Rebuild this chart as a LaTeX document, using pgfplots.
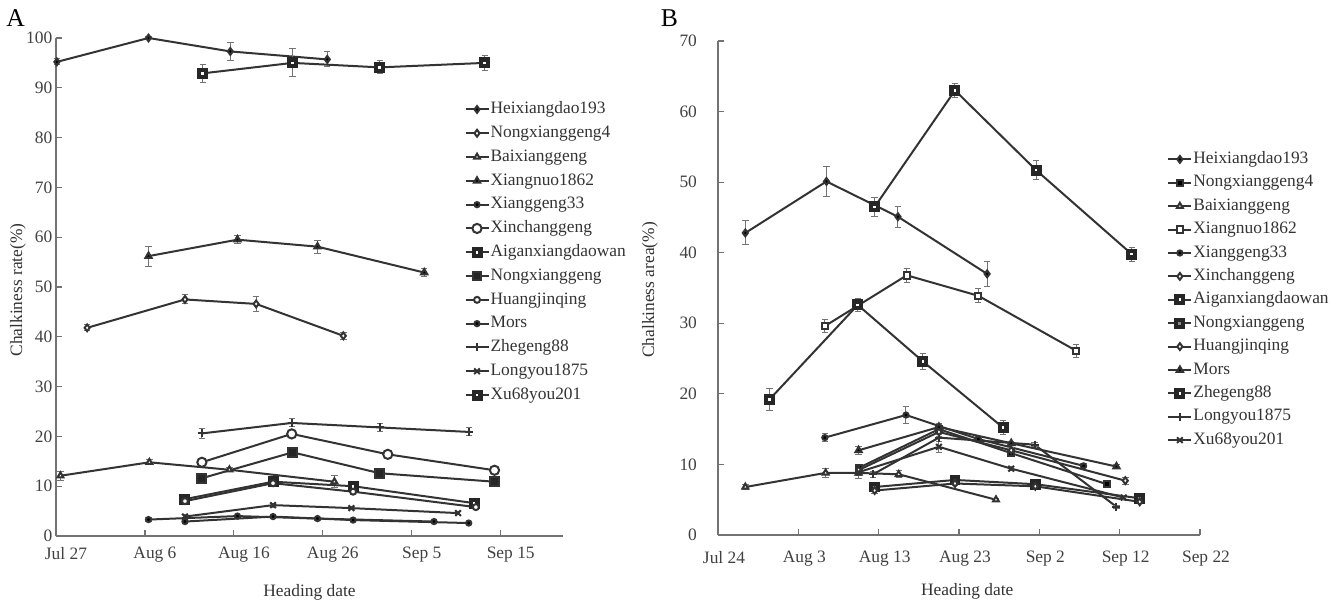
\documentclass[border=0pt]{standalone}
\usepackage{fontspec}
\setmainfont{Liberation Serif}
\usepackage{pgfplots}
\pgfplotsset{compat=1.18}
\newcommand{\fs}{\fontsize{8.7}{10}\selectfont}

\pgfplotsset{
  chalk/.style={
    scale only axis, clip=false,
    axis lines*=left,
    axis line style={black!55, line width=0.8pt},
    tick style={black!55, line width=0.6pt},
    major tick length=3pt,
    tick align=inside,
    ymin=0,
    tick label style={font=\fs, text=black!75},
    /pgf/number format/assume math mode=true,
    label style={font=\fs, text=black!80},
    every axis plot/.append style={line width=1pt, black!80},
    legend style={draw=none, fill=none, font=\fs, text=black!80, inner sep=0pt,
      anchor=north west, cells={anchor=west},
      nodes={inner sep=0.5pt, text height=6pt, text depth=1.8pt}},
    legend image code/.code={\draw[mark repeat=2,mark phase=2,##1] plot coordinates {(0pt,0pt) (5.75pt,0pt) (11.5pt,0pt)};},
  },
  eb/.style={error bars/y dir=both, error bars/y explicit,
    error bars/error bar style={black!55, line width=0.5pt},
    error bars/error mark options={rotate=90, mark size=1.6pt, black!55, line width=0.5pt}},
  dmdF/.style={eb, mark=diamond*, mark size=1.7pt, mark options={fill=black, solid}},
  dmdO/.style={eb, mark=diamond*, mark size=1.7pt, mark options={fill=white, solid}},
  triO/.style={eb, mark=triangle*, mark size=1.7pt, mark options={fill=white, solid}},
  triF/.style={eb, mark=triangle*, mark size=1.8pt, mark options={fill=black, solid}},
  dotF/.style={eb, mark=*, mark size=1.3pt, mark options={fill=black, solid}},
  cirO/.style={eb, mark=*, mark size=2.3pt, mark options={fill=white, solid}},
  cirOs/.style={eb, mark=*, mark size=1.5pt, mark options={fill=white, solid}},
  sqIn/.style={eb, mark=square*, mark size=1.7pt, mark options={fill=white, draw=black!85, line width=2.1pt, solid}},
  sqF/.style={eb, mark=square*, mark size=2.2pt, mark options={fill=black!85, solid}},
  sqX/.style={eb, mark=square*, mark size=1.7pt, mark options={fill=black!45, draw=black!85, line width=2pt, solid}},
  sqO/.style={eb, mark=square*, mark size=1.6pt, mark options={fill=white, solid}},
  sqFs/.style={eb, mark=square*, mark size=1.5pt, mark options={fill=black, solid}},
  plusM/.style={eb, mark=+, mark size=2pt, mark options={solid}},
  xM/.style={eb, mark=x, mark size=2pt, mark options={solid}},
}

\begin{document}
\begin{tikzpicture}
\path[use as bounding box] (0,0) rectangle (668pt,-301.5pt);
\node[font=\fontsize{12.8}{14}\selectfont] at (7.75pt,-9.25pt) {A};
\node[font=\fontsize{12.8}{14}\selectfont] at (334.75pt,-9.25pt) {B};

% ---------------- panel A: chalkiness rate ----------------
\begin{axis}[chalk, at={(28pt,-268pt)}, anchor=south west,
  width=253.5pt, height=249pt,
  xmin=0, xmax=57, ymax=100,
  xtick={0,10,...,50},
  xticklabels={Jul 27,Aug 6,Aug 16,Aug 26,Sep 5,Sep 15},
  xticklabel style={xshift=5pt, yshift=-2pt},
  ytick={0,10,...,100},
  yticklabel style={xshift=1.7pt},
  xlabel={Heading date},
  xlabel style={at={(axis description cs:0.5,-0.1124)}, anchor=center},
  ylabel={Chalkiness rate(\%)},
  ylabel style={at={(axis description cs:-0.075,0.494)}, anchor=center},
  legend style={at={(axis description cs:0.805,0.875)}, row sep=3.1pt},
]
\addplot[dmdF] coordinates {(0.1,95.2) +- (0,0.6) (10.4,100) +- (0,0.2) (19.6,97.3) +- (0,1.8) (30.5,95.7) +- (0,1.5)};
\addlegendentry{Heixiangdao193}
\addplot[dmdO] coordinates {(3.5,41.8) +- (0,0.6) (14.5,47.5) +- (0,0.9) (22.5,46.6) +- (0,1.5) (32.3,40.2) +- (0,0.7)};
\addlegendentry{Nongxianggeng4}
\addplot[triO] coordinates {(0.5,12.1) +- (0,0.9) (10.5,14.8) +- (0,0.5) (19.5,13.3) +- (0,0.4) (31.3,10.9) +- (0,1.2)};
\addlegendentry{Baixianggeng}
\addplot[triF] coordinates {(10.4,56.2) +- (0,2.0) (20.4,59.5) +- (0,0.8) (29.4,58.1) +- (0,1.3) (41.4,52.9) +- (0,0.8)};
\addlegendentry{Xiangnuo1862}
\addplot[dotF] coordinates {(10.4,3.3) +- (0,0.4) (20.4,4.0) +- (0,0.2) (29.4,3.5) +- (0,0.3) (42.5,2.9) +- (0,0.2)};
\addlegendentry{Xianggeng33}
\addplot[cirO] coordinates {(16.4,14.8) +- (0,0.5) (26.5,20.5) +- (0,0.6) (37.3,16.4) +- (0,0.3) (49.3,13.2) +- (0,0.3)};
\addlegendentry{Xinchanggeng}
\addplot[sqIn] coordinates {(14.5,7.4) +- (0,0.4) (24.4,10.9) +- (0,0.4) (33.4,10.0) +- (0,0.5) (47.0,6.6) +- (0,0.4)};
\addlegendentry{Aiganxiangdaowan}
\addplot[sqF] coordinates {(16.4,11.6) +- (0,0.4) (26.6,16.8) +- (0,0.7) (36.4,12.6) +- (0,0.9) (49.3,10.9) +- (0,0.4)};
\addlegendentry{Nongxianggeng}
\addplot[cirOs] coordinates {(14.5,7.0) +- (0,0.3) (24.4,10.6) +- (0,0.3) (33.4,8.9) +- (0,0.6) (47.2,5.8) +- (0,0.3)};
\addlegendentry{Huangjinqing}
\addplot[dotF] coordinates {(14.5,2.9) +- (0,0.2) (24.4,3.9) +- (0,0.2) (33.4,3.2) +- (0,0.2) (46.4,2.6) +- (0,0.2)};
\addlegendentry{Mors}
\addplot[plusM] coordinates {(16.4,20.6) +- (0,1.0) (26.5,22.7) +- (0,0.8) (36.4,21.8) +- (0,0.8) (46.4,20.9) +- (0,0.8)};
\addlegendentry{Zhegeng88}
\addplot[xM] coordinates {(14.5,3.9) +- (0,0.5) (24.4,6.2) +- (0,0.4) (33.2,5.6) +- (0,0.3) (45.2,4.6) +- (0,0.3)};
\addlegendentry{Longyou1875}
\addplot[sqIn] coordinates {(16.5,92.9) +- (0,1.8) (26.6,95.0) +- (0,2.8) (36.4,94.1) +- (0,1.3) (48.2,95.0) +- (0,1.5)};
\addlegendentry{Xu68you201}
\end{axis}

% ---------------- panel B: chalkiness area ----------------
\begin{axis}[chalk, at={(359pt,-267.5pt)}, anchor=south west,
  width=241pt, height=247pt,
  xmin=0, xmax=60, ymax=70,
  xtick={0,10,...,60},
  xticklabels={Jul 24,Aug 3,Aug 13,Aug 23,Sep 2,Sep 12,Sep 22},
  xticklabel style={xshift=3pt, yshift=-4.5pt},
  ytick={0,10,...,70},
  yticklabel style={xshift=-7pt},
  xlabel={Heading date},
  xlabel style={at={(axis description cs:0.517,-0.115)}, anchor=center},
  ylabel={Chalkiness area(\%)},
  ylabel style={at={(axis description cs:-0.141,0.496)}, anchor=center},
  legend style={at={(axis description cs:0.9315,0.779)}, row sep=2.9pt},
]
\addplot[dmdF] coordinates {(3.4,42.8) +- (0,1.7) (13.5,50.1) +- (0,2.1) (22.4,45.1) +- (0,1.5) (33.5,37.0) +- (0,1.8)};
\addlegendentry{Heixiangdao193}
\addplot[sqFs] coordinates {(17.5,9.5) +- (0,0.5) (27.5,15.0) +- (0,0.6) (36.5,11.6) +- (0,0.5) (48.4,7.2) +- (0,0.4)};
\addlegendentry{Nongxianggeng4}
\addplot[triO] coordinates {(3.4,6.8) +- (0,0.3) (13.4,8.8) +- (0,0.6) (17.5,8.8) +- (0,0.8) (22.5,8.6) +- (0,0.5) (34.6,5.0) +- (0,0.2)};
\addlegendentry{Baixianggeng}
\addplot[sqO] coordinates {(13.3,29.6) +- (0,0.9) (23.5,36.8) +- (0,1.0) (32.4,33.9) +- (0,1.0) (44.6,26.1) +- (0,0.9)};
\addlegendentry{Xiangnuo1862}
\addplot[dotF] coordinates {(13.3,13.8) +- (0,0.6) (23.4,17.0) +- (0,1.2) (32.4,13.6) +- (0,0.4) (45.5,9.8) +- (0,0.3)};
\addlegendentry{Xianggeng33}
\addplot[dmdO] coordinates {(17.5,9.2) +- (0,0.5) (27.5,14.6) +- (0,0.6) (36.5,12.0) +- (0,0.4) (50.7,7.7) +- (0,0.5)};
\addlegendentry{Xinchanggeng}
\addplot[sqIn] coordinates {(6.4,19.2) +- (0,1.6) (17.4,32.6) +- (0,0.9) (25.5,24.6) +- (0,1.1) (35.5,15.2) +- (0,1.0)};
\addlegendentry{Aiganxiangdaowan}
\addplot[sqX] coordinates {(19.5,6.8) +- (0,0.4) (29.5,7.8) +- (0,0.3) (39.5,7.2) +- (0,0.3) (52.5,5.2) +- (0,0.3)};
\addlegendentry{Nongxianggeng}
\addplot[dmdO] coordinates {(19.5,6.3) +- (0,0.4) (29.5,7.3) +- (0,0.3) (39.5,6.9) +- (0,0.3) (52.5,4.7) +- (0,0.3)};
\addlegendentry{Huangjinqing}
\addplot[triF] coordinates {(17.5,12.0) +- (0,0.6) (27.5,15.3) +- (0,0.5) (36.5,13.0) +- (0,0.3) (49.6,9.7) +- (0,0.3)};
\addlegendentry{Mors}
\addplot[sqIn] coordinates {(19.5,46.5) +- (0,1.3) (29.5,63.0) +- (0,1.0) (39.6,51.7) +- (0,1.3) (51.5,39.8) +- (0,1.0)};
\addlegendentry{Zhegeng88}
\addplot[plusM] coordinates {(19.3,8.6) +- (0,0.4) (27.5,13.8) +- (0,0.5) (39.4,12.8) +- (0,0.3) (49.6,4.0) +- (0,0.2)};
\addlegendentry{Longyou1875}
\addplot[xM] coordinates {(17.5,8.9) +- (0,0.4) (27.5,12.5) +- (0,0.8) (36.5,9.4) +- (0,0.3) (50.5,5.3) +- (0,0.3)};
\addlegendentry{Xu68you201}
\end{axis}
\end{tikzpicture}
\end{document}
